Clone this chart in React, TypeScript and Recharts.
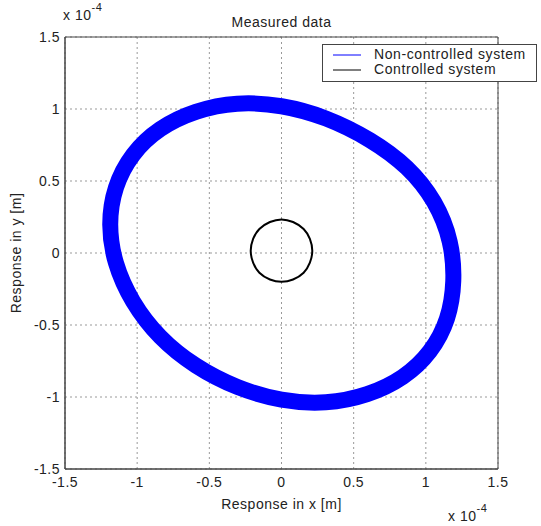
import { LineChart, Line, XAxis, YAxis, CartesianGrid, ReferenceArea } from "recharts";

// displacement in units of 1e-4 m
const axisTicks = [-1.5, -1, -0.5, 0, 0.5, 1, 1.5];

// orbit without control, traced anticlockwise from the right-hand side
const freeX = [1.2, 1.18, 1.07, 0.88, 0.62, 0.31, 0.0, -0.31, -0.6, -0.85, -1.04, -1.16, -1.2, -1.16, -1.04, -0.85, -0.6, -0.31, 0.0, 0.31, 0.6, 0.85, 1.04, 1.16];
const freeY = [-0.2, 0.08, 0.36, 0.6, 0.79, 0.945, 1.03, 1.05, 0.99, 0.87, 0.69, 0.46, 0.2, -0.07, -0.34, -0.59, -0.79, -0.94, -1.03, -1.05, -0.99, -0.87, -0.69, -0.46];

// orbit with control switched on
const ctrlX = [0.0, 0.08, 0.16, 0.2, 0.22, 0.2, 0.16, 0.08, 0.0, -0.08, -0.16, -0.2, -0.22, -0.2, -0.16, -0.08];
const ctrlY = [0.24, 0.22, 0.17, 0.1, 0.015, -0.07, -0.14, -0.19, -0.205, -0.19, -0.14, -0.07, 0.015, 0.1, 0.17, 0.22];

const seriesNames = ["Non-controlled system", "Controlled system"];
const seriesColors = ["#0000ff", "#000000"];

const freeOrbit = freeX.map((x, i) => ({ x, y: freeY[i] }));
const ctrlOrbit = ctrlX.map((x, i) => ({ x, y: ctrlY[i] }));

const FONT = "'Liberation Sans', Arial, sans-serif";
const INK = "#222";
const textStyle = { fontFamily: FONT, fontSize: 14, letterSpacing: 0.5, fill: INK };

function LegendBox() {
  return (
    <div
      style={{
        position: "absolute",
        left: 322,
        top: 44,
        width: 204,
        border: "1px solid #444",
        background: "#fff",
        padding: "2px 0 4px 9px",
        fontFamily: FONT,
        fontSize: 14,
        letterSpacing: 0.6,
        color: INK,
        lineHeight: "15px",
      }}
    >
      {seriesNames.map((name, i) => (
        <div key={name} style={{ display: "flex", alignItems: "center" }}>
          <svg width={42} height={15}>
            <line x1={1} y1={8} x2={29} y2={8} stroke={seriesColors[i]} strokeWidth={1} />
          </svg>
          <span>{name}</span>
        </div>
      ))}
    </div>
  );
}

export default function App() {
  return (
    <div style={{ position: "absolute", left: 0, top: 0, width: 541, height: 526 }}>
      <LineChart width={541} height={526} margin={{ top: 0, right: 43, left: 0, bottom: 0 }}>
        <CartesianGrid stroke="#999" strokeDasharray="2 3" />
        <XAxis
          xAxisId="top"
          orientation="top"
          type="number"
          domain={[-1.5, 1.5]}
          ticks={axisTicks}
          height={37}
          tick={false}
          tickLine={false}
          axisLine={false}
          label={{
            content: ({ viewBox }: any) => (
              <text x={viewBox.x + viewBox.width / 2} y={viewBox.y + 27} textAnchor="middle" style={textStyle}>
                Measured data
              </text>
            ),
          }}
        />
        <XAxis
          dataKey="x"
          type="number"
          domain={[-1.5, 1.5]}
          ticks={axisTicks}
          allowDataOverflow
          height={57}
          tickLine={false}
          axisLine={{ stroke: "#444" }}
          tick={textStyle}
          tickSize={6}
          tickMargin={2}
          label={{
            content: ({ viewBox }: any) => (
              <g>
                <text x={viewBox.x + viewBox.width / 2} y={viewBox.y + 40} textAnchor="middle" style={textStyle}>
                  Response in x [m]
                </text>
                <text x={viewBox.x + viewBox.width - 50} y={viewBox.y + 52} style={textStyle}>
                  x 10
                  <tspan dy={-9} fontSize={11}>-4</tspan>
                </text>
              </g>
            ),
          }}
        />
        <YAxis
          dataKey="y"
          type="number"
          domain={[-1.5, 1.5]}
          ticks={axisTicks}
          allowDataOverflow
          width={65}
          tickLine={false}
          axisLine={{ stroke: "#444" }}
          tick={textStyle}
          tickSize={3}
          tickMargin={2}
          label={{
            content: ({ viewBox }: any) => {
              const cx = viewBox.x + 21;
              const cy = viewBox.y + viewBox.height / 2;
              return (
                <g>
                  <text x={cx} y={cy} transform={`rotate(-90 ${cx} ${cy})`} textAnchor="middle" style={textStyle}>
                    Response in y [m]
                  </text>
                  <text x={viewBox.x + 63} y={viewBox.y - 17} style={textStyle}>
                    x 10
                    <tspan dy={-9} fontSize={11}>-4</tspan>
                  </text>
                </g>
              );
            },
          }}
        />
        <ReferenceArea x1={-1.5} x2={1.5} y1={-1.5} y2={1.5} fill="none" stroke="#444" strokeWidth={1} ifOverflow="visible" />
        <Line
          data={freeOrbit}
          dataKey="y"
          name={seriesNames[0]}
          type="basisClosed"
          stroke={seriesColors[0]}
          strokeWidth={16}
          strokeLinejoin="round"
          dot={false}
          isAnimationActive={false}
        />
        <Line
          data={ctrlOrbit}
          dataKey="y"
          name={seriesNames[1]}
          type="basisClosed"
          stroke={seriesColors[1]}
          strokeWidth={2}
          dot={false}
          isAnimationActive={false}
        />
      </LineChart>
      <LegendBox />
    </div>
  );
}
